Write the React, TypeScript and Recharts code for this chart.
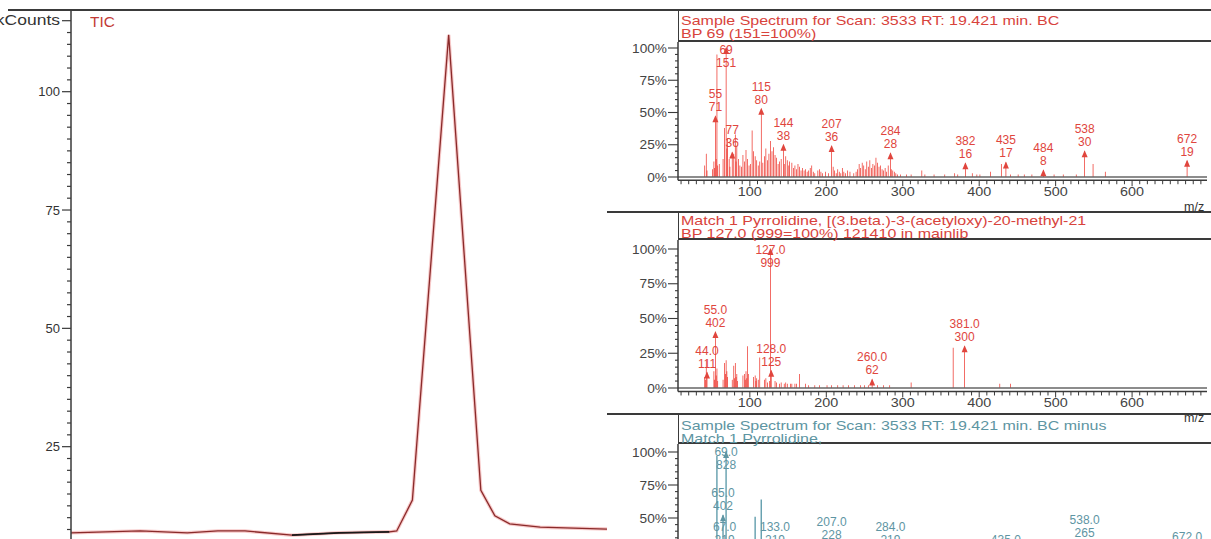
import { LineChart, Line, XAxis, YAxis, BarChart, Bar, LabelList, ReferenceLine } from 'recharts';

// TIC trace, retention time (min) vs kCounts
const ticTimes = [18.963, 19.047, 19.104, 19.141, 19.174, 19.231, 19.288, 19.349, 19.358, 19.377, 19.421, 19.46, 19.477, 19.495, 19.532, 19.613];
const ticKCounts = [6.8, 7.2, 6.8, 7.2, 7.2, 6.3, 6.8, 7.0, 7.2, 13.7, 112.0, 15.8, 10.4, 8.7, 8.0, 7.6];
const ticMarkRange = [19.231, 19.349];
const ticMajor = [25, 50, 75, 100];

// spectrum 1: sample scan 3533 (m/z, % of base peak)
const sampleSpectrum: [number, number][] = [
  [41, 9], [43, 18], [44, 5], [51, 6], [53, 12], [54, 7], [55, 47], [56, 14], [57, 95], [58, 9], [60, 10], [65, 14],
  [67, 38], [69, 100], [70, 22], [71, 30], [73, 14], [74, 8], [77, 19], [79, 18], [81, 33], [82, 12], [83, 24], [85, 14],
  [87, 9], [89, 8], [91, 17], [93, 12], [95, 21], [97, 14], [99, 9], [101, 10], [103, 36], [105, 20], [107, 16], [109, 13],
  [111, 9], [113, 12], [115, 53], [117, 11], [119, 16], [121, 22], [123, 13], [125, 18], [127, 28], [129, 20], [131, 23],
  [133, 17], [135, 15], [137, 10], [139, 12], [141, 14], [144, 25], [145, 10], [147, 16], [149, 13], [151, 9], [152, 12],
  [155, 11], [157, 7], [159, 9], [161, 6], [163, 10], [165, 8], [167, 5], [169, 7], [171, 5], [173, 6], [175, 4], [177, 5],
  [179, 7], [181, 9], [183, 4], [185, 3], [189, 5], [191, 6], [193, 4], [195, 3], [199, 4], [203, 3], [207, 24], [209, 8],
  [211, 5], [213, 3], [215, 6], [217, 4], [219, 3], [221, 7], [223, 4], [225, 3], [228, 5], [231, 4], [236, 3], [239, 4],
  [241, 6], [243, 10], [245, 7], [247, 11], [249, 9], [251, 6], [253, 12], [255, 8], [257, 13], [259, 7], [261, 10],
  [263, 9], [265, 15], [267, 11], [269, 8], [271, 9], [273, 6], [275, 5], [277, 7], [279, 4], [281, 9], [284, 18.5],
  [285, 6], [287, 5], [289, 4], [291, 3], [293, 2], [297, 2], [305, 2], [311, 2], [325, 5], [329, 2], [341, 2], [355, 2],
  [368, 3], [372, 2], [382, 10.6], [391, 3], [397, 2], [401, 2], [415, 4], [429, 10], [435, 11.3], [441, 2], [451, 2],
  [459, 2], [469, 2], [484, 5.3], [498, 2], [510, 2], [527, 2], [538, 19.9], [549, 10], [565, 4], [672, 12.6],
];
const sampleLabels = [
  { mz: 55, text: '55', count: '71' }, { mz: 69, text: '69', count: '151' }, { mz: 77, text: '77', count: '36' },
  { mz: 115, text: '115', count: '80' }, { mz: 144, text: '144', count: '38' }, { mz: 207, text: '207', count: '36' },
  { mz: 284, text: '284', count: '28' }, { mz: 382, text: '382', count: '16' }, { mz: 435, text: '435', count: '17' },
  { mz: 484, text: '484', count: '8' }, { mz: 538, text: '538', count: '30' }, { mz: 672, text: '672', count: '19' },
];

// spectrum 2: library match
const matchSpectrum: [number, number][] = [
  [41, 8], [42, 6], [43, 20], [44, 11.1], [53, 12], [54, 6], [55, 40.2], [56, 9], [57, 14], [58, 5], [65, 6], [67, 18],
  [68, 10], [69, 20], [70, 12], [71, 8], [77, 6], [79, 16], [80, 7], [81, 18], [82, 8], [83, 10], [84, 5], [91, 9],
  [93, 10], [94, 6], [95, 12], [96, 7], [97, 30], [98, 10], [105, 8], [107, 9], [108, 5], [109, 7], [111, 6], [113, 22],
  [119, 6], [121, 7], [123, 4], [126, 5], [127, 100], [128, 12.5], [133, 5], [135, 4], [139, 3], [141, 4], [145, 3],
  [147, 4], [149, 3], [153, 3], [155, 3], [159, 3], [161, 3], [165, 10], [173, 3], [177, 2], [185, 2], [191, 2],
  [201, 2], [207, 2], [215, 2], [222, 2], [229, 2], [237, 2], [245, 2], [250, 2], [255, 2], [260, 6.2], [267, 2],
  [275, 2], [283, 2], [311, 4], [366, 29], [381, 30], [427, 3], [441, 3],
];
const matchLabels = [
  { mz: 44, text: '44.0', count: '111' }, { mz: 55, text: '55.0', count: '402' }, { mz: 127, text: '127.0', count: '999' },
  { mz: 128, text: '128.0', count: '125' }, { mz: 260, text: '260.0', count: '62' }, { mz: 381, text: '381.0', count: '300' },
];

// spectrum 3: sample minus match
const diffSpectrum: [number, number][] = [
  [43, 12], [55, 22], [57, 97], [65, 52], [67, 26.5], [69, 100], [79, 20], [81, 24], [95, 18], [107, 51], [115, 64],
  [121, 15], [133, 26.5], [147, 12], [207, 30], [221, 8], [265, 10], [284, 26.5], [382, 10], [429, 9], [435, 17],
  [538, 32], [549, 12], [672, 19],
];
const diffLabels = [
  { mz: 69, text: '69.0', count: '828' }, { mz: 65, text: '65.0', count: '402' }, { mz: 67, text: '67.0', count: '219' },
  { mz: 133, text: '133.0', count: '219' }, { mz: 207, text: '207.0', count: '228' }, { mz: 284, text: '284.0', count: '219' },
  { mz: 435, text: '435.0', count: '141' }, { mz: 538, text: '538.0', count: '265' }, { mz: 672, text: '672.0', count: '157' },
];

const pctTicks: number[] = [];
for (let v = 0; v <= 100; v += 5) pctTicks.push(v);
const mzTicks: number[] = [];
for (let v = 10; v <= 690; v += 10) mzTicks.push(v);
const ticTicks: number[] = [];
for (let v = 0; v <= 115; v += 2.5) ticTicks.push(v);

const AXIS = '#3a3a3a';
const FONT = '"Liberation Sans", Arial, sans-serif';

const ticData = ticTimes.map((t, i) => ({
  t,
  v: ticKCounts[i],
  mark: t >= ticMarkRange[0] && t <= ticMarkRange[1] ? ticKCounts[i] : null,
}));

const TicLeftTick = (props: any) => {
  const { x, y, payload } = props;
  const v = payload.value;
  const top = v === 115;
  const major = top || ticMajor.includes(v);
  return (
    <g>
      <line x1={x - (major ? 9 : 4)} x2={x} y1={y} y2={y} stroke={AXIS} strokeWidth={1.2} />
      {major && (
        <text transform={`translate(${x - 11},${y + 4.5}) scale(${top ? 1.25 : 1},1)`} textAnchor="end" fontSize={top ? 14 : 13} fill="#333">
          {top ? 'kCounts' : v}
        </text>
      )}
    </g>
  );
};

const TicRightTick = (props: any) => {
  const { x, y, payload } = props;
  const major = ticMajor.includes(payload.value);
  return <line x1={x - (major ? 8 : 4)} x2={x} y1={y} y2={y} stroke={AXIS} strokeWidth={1.2} />;
};

const SpecLeftTick = (props: any) => {
  const { x, y, payload } = props;
  const v = payload.value;
  const major = v % 25 === 0;
  return (
    <g>
      <line x1={x - (major ? 10 : 3)} x2={x} y1={y} y2={y} stroke={AXIS} strokeWidth={1.1} />
      {major && (
        <text transform={`translate(${x - 11},${y + 4.5}) scale(1.14,1)`} textAnchor="end" fontSize={12} fill="#444">
          {`${v}%`}
        </text>
      )}
    </g>
  );
};

const SpecRightTick = (props: any) => {
  const { x, y, payload } = props;
  const major = payload.value % 25 === 0;
  return <line x1={x - (major ? 8 : 3)} x2={x} y1={y} y2={y} stroke={AXIS} strokeWidth={1.1} />;
};

const SpecXTick = (props: any) => {
  const { x, y, payload } = props;
  const v = payload.value;
  const major = v % 100 === 0;
  return (
    <g>
      <line x1={x} x2={x} y1={y} y2={y + (major ? 6 : 4)} stroke={AXIS} strokeWidth={1} />
      {major && (
        <text transform={`translate(${x},${y + 16}) scale(1.15,1)`} textAnchor="middle" fontSize={12.5} fill="#444">
          {v}
        </text>
      )}
    </g>
  );
};

const peakLabel = (color: string, clampY: number) => (props: any) => {
  const vb = props.viewBox || props;
  const value = props.value;
  if (!value) return null;
  const [mz, cnt] = String(value).split('|');
  const cx = vb.x + vb.width / 2;
  const top = vb.y;
  const base = Math.max(top - 18, clampY);
  return (
    <g>
      <polygon points={`${cx},${top - 1} ${cx - 3},${top + 6} ${cx + 3},${top + 6}`} fill={color} />
      <text x={cx} y={base} textAnchor="middle" fontSize={12} fill={color}>{mz}</text>
      <text x={cx} y={base + 13} textAnchor="middle" fontSize={12} fill={color}>{cnt}</text>
    </g>
  );
};

interface SpectrumProps {
  top: number;
  height: number;
  boxBottom: number;
  y100: number;
  pxPerPct: number;
  peaks: [number, number][];
  labels: { mz: number; text: string; count: string }[];
  barColor: string;
  labelColor: string;
  clampOffset: number;
  title: string[];
  titleColor: string;
  titleY: number;
  showMz: boolean;
}

function Spectrum(p: SpectrumProps) {
  const data = p.peaks.map(([mz, pct]) => {
    const l = p.labels.find((d) => d.mz === mz);
    return { mz, pct, tag: l ? `${l.text}|${l.count}` : '' };
  });
  const domainMax = 100 + (p.y100 - p.boxBottom) / p.pxPerPct;
  const plotBottom = p.y100 + 102.5 * p.pxPerPct;
  const xAxisH = p.top + p.height - plotBottom;
  return (
    <>
      <div style={{ position: 'absolute', left: 607, top: p.top }}>
        <BarChart width={604} height={p.height} data={data} margin={{ top: p.boxBottom - p.top, right: 4, left: 0, bottom: 0 }}>
          <XAxis
            dataKey="mz"
            type="number"
            domain={[6, 698]}
            ticks={mzTicks}
            interval={0}
            allowDataOverflow
            height={xAxisH}
            tickSize={0}
            tickMargin={0}
            tick={SpecXTick}
            axisLine={{ stroke: AXIS, strokeWidth: 1.5 }}
          />
          <YAxis
            yAxisId="l"
            type="number"
            domain={[-2.5, domainMax]}
            ticks={pctTicks}
            interval={0}
            allowDataOverflow
            width={71}
            tickSize={0}
            tickMargin={0}
            tick={SpecLeftTick}
            axisLine={{ stroke: AXIS, strokeWidth: 1.5 }}
          />
          <YAxis
            yAxisId="r"
            orientation="right"
            type="number"
            domain={[-2.5, domainMax]}
            ticks={pctTicks}
            interval={0}
            allowDataOverflow
            width={0}
            tickSize={0}
            tickMargin={0}
            tick={SpecRightTick}
            axisLine={{ stroke: AXIS, strokeWidth: 1.5 }}
          />
          <ReferenceLine yAxisId="l" y={0} stroke="#666" strokeWidth={1.3} />
          <Bar yAxisId="l" dataKey="pct" fill={p.barColor} barSize={1.8} isAnimationActive={false}>
            <LabelList dataKey="tag" content={peakLabel(p.labelColor, p.boxBottom - p.top + p.clampOffset)} />
          </Bar>
        </BarChart>
      </div>
      <div
        style={{
          position: 'absolute',
          left: 678,
          top: p.top,
          width: 1211 - 678,
          height: p.boxBottom - p.top,
          borderLeft: `1px solid ${AXIS}`,
          borderBottom: `2px solid ${AXIS}`,
          boxSizing: 'border-box',
        }}
      />
      <div
        style={{
          position: 'absolute',
          left: 681,
          top: p.titleY - 6.5,
          color: p.titleColor,
          fontSize: 13,
          lineHeight: '13px',
          whiteSpace: 'nowrap',
          transform: 'scaleX(1.23)',
          transformOrigin: 'left top',
        }}
      >
        {p.title.map((t) => (
          <div key={t}>{t}</div>
        ))}
      </div>
      {p.showMz && (
        <div style={{ position: 'absolute', left: 1184, top: plotBottom + 20, fontSize: 12.5, color: '#333' }}>m/z</div>
      )}
    </>
  );
}

export default function App() {
  return (
    <div
      style={{
        position: 'fixed',
        left: 0,
        top: 0,
        width: 1211,
        height: 539,
        overflow: 'hidden',
        background: '#fff',
        fontFamily: FONT,
      }}
    >
      <div style={{ position: 'absolute', left: 0, top: 0 }}>
        <LineChart width={612} height={580} data={ticData} margin={{ top: 10, right: 5, left: 0, bottom: 15 }}>
          <XAxis dataKey="t" type="number" domain={[18.963, 19.613]} hide height={0} />
          <YAxis
            yAxisId="l"
            type="number"
            domain={[0, 117.26]}
            ticks={ticTicks}
            interval={0}
            width={71}
            tickSize={0}
            tickMargin={0}
            tick={TicLeftTick}
            axisLine={{ stroke: AXIS, strokeWidth: 1.5 }}
          />
          <YAxis
            yAxisId="r"
            orientation="right"
            type="number"
            domain={[0, 117.26]}
            ticks={ticTicks}
            interval={0}
            width={0}
            tickSize={0}
            tickMargin={0}
            tick={TicRightTick}
            axisLine={{ stroke: AXIS, strokeWidth: 1.5 }}
          />
          <Line yAxisId="l" type="linear" dataKey="v" stroke="#f2a5a5" strokeWidth={3.5} strokeOpacity={0.6} dot={false} isAnimationActive={false} />
          <Line yAxisId="l" type="linear" dataKey="v" stroke="#8a2a2a" strokeWidth={1.3} dot={false} isAnimationActive={false} />
          <Line yAxisId="l" type="linear" dataKey="mark" stroke="#1a1a1a" strokeWidth={1.8} dot={false} connectNulls={false} isAnimationActive={false} />
        </LineChart>
      </div>
      <div style={{ position: 'absolute', left: 90, top: 14, fontSize: 14, color: '#c23a35', transform: 'scaleX(1.1)', transformOrigin: 'left top' }}>
        TIC
      </div>
      <div style={{ position: 'absolute', left: 8, top: 9, width: 1203, height: 2, background: AXIS }} />
      <div style={{ position: 'absolute', left: 607, top: 211, width: 604, height: 2, background: AXIS }} />
      <div style={{ position: 'absolute', left: 607, top: 413, width: 604, height: 2, background: AXIS }} />

      <Spectrum
        top={11}
        height={201}
        boxBottom={42}
        y100={48}
        pxPerPct={1.29}
        peaks={sampleSpectrum}
        labels={sampleLabels}
        barColor="#ec2a20"
        labelColor="#e0453d"
        clampOffset={12}
        title={['Sample Spectrum for Scan: 3533 RT: 19.421 min. BC', 'BP 69 (151=100%)']}
        titleColor="#d8433c"
        titleY={20}
        showMz
      />
      <Spectrum
        top={212}
        height={202}
        boxBottom={240}
        y100={249}
        pxPerPct={1.39}
        peaks={matchSpectrum}
        labels={matchLabels}
        barColor="#ec2a20"
        labelColor="#e0453d"
        clampOffset={14}
        title={['Match 1 Pyrrolidine, [(3.beta.)-3-(acetyloxy)-20-methyl-21', 'BP 127.0 (999=100%) 121410 in mainlib']}
        titleColor="#d8433c"
        titleY={220}
        showMz
      />
      <Spectrum
        top={414}
        height={210}
        boxBottom={444}
        y100={452}
        pxPerPct={1.32}
        peaks={diffSpectrum}
        labels={diffLabels}
        barColor="#5f9cab"
        labelColor="#5e95a3"
        clampOffset={12}
        title={['Sample Spectrum for Scan: 3533 RT: 19.421 min. BC minus', 'Match 1 Pyrrolidine,']}
        titleColor="#5d95a2"
        titleY={425}
        showMz={false}
      />
    </div>
  );
}
